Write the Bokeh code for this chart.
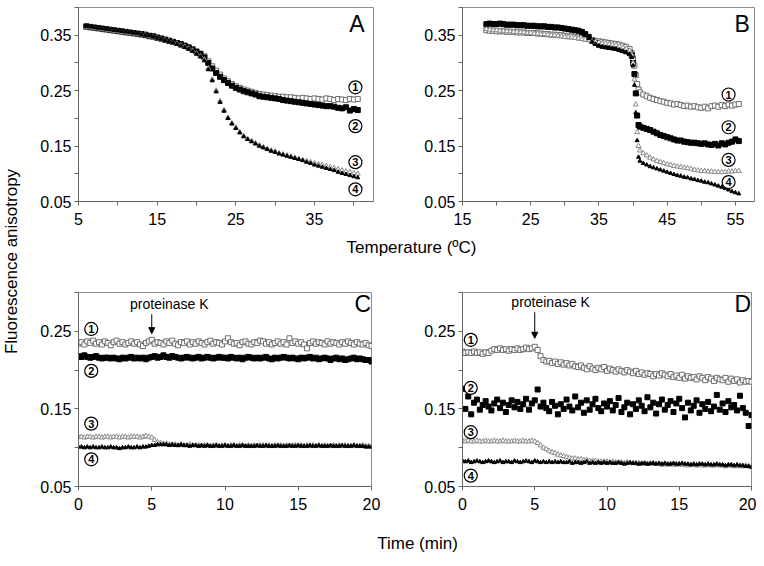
import numpy as np
from bokeh.plotting import figure
from bokeh.layouts import row, column
from bokeh.models import Range1d, FixedTicker, Label, Arrow, NormalHead, PrintfTickFormatter
from bokeh.embed import file_html
from bokeh.resources import INLINE
from bokeh.core.properties import value

FONT = "Liberation Sans"

# ---------------- Panel A: temperature scan ----------------
temp_a = np.arange(6.0, 40.6, 0.5)
a1 = [.365, .364, .363, .362, .361, .360, .359, .358,
      .357, .356, .355, .354, .353, .352, .351, .350, .348, .347,
      .345, .344, .342, .340, .338, .336, .333, .331, .328, .325,
      .321, .317, .312, .303, .294, .286, .279, .272, .267, .262,
      .258, .255, .252, .250, .248, .246, .244, .243, .242, .241,
      .240, .239, .239, .238, .238, .237, .236, .237, .236, .235,
      .236, .235, .234, .236, .235, .233, .235, .234, .233, .235,
      .234, .235]
a2 = [.366, .365, .364, .363, .362, .361, .360, .359,
      .358, .357, .356, .355, .354, .353, .352, .351, .349, .348,
      .346, .344, .342, .340, .338, .336, .334, .331, .328, .324,
      .320, .316, .310, .300, .290, .282, .275, .269, .264, .259,
      .255, .252, .249, .247, .245, .243, .240, .239, .238, .237,
      .236, .235, .233, .232, .231, .230, .229, .228, .227, .226,
      .225, .224, .223, .222, .222, .221, .219, .218, .220, .214,
      .217, .215]
a3 = [.365, .364, .363, .362, .361, .360, .359, .358,
      .357, .356, .355, .354, .353, .352, .351, .350, .348, .347,
      .345, .343, .341, .339, .337, .335, .332, .329, .326, .322,
      .317, .312, .306, .290, .270, .250, .231, .215, .201, .191,
      .183, .175, .168, .163, .159, .155, .151, .148, .145, .142,
      .140, .137, .135, .133, .131, .129, .127, .125, .123, .121,
      .119, .117, .116, .114, .112, .110, .108, .106, .104, .103,
      .101, .100]
a4 = [.366, .365, .364, .363, .362, .361, .360, .359,
      .358, .357, .356, .355, .354, .353, .351, .350, .349, .347,
      .345, .343, .341, .339, .337, .334, .331, .328, .325, .321,
      .316, .311, .304, .288, .268, .248, .229, .213, .200, .190,
      .182, .174, .167, .162, .158, .154, .150, .147, .144, .141,
      .139, .136, .134, .132, .130, .128, .126, .124, .121, .119,
      .116, .114, .112, .110, .108, .106, .103, .101, .099, .097,
      .095, .093]

# ---------------- Panel B: temperature scan ----------------
temp_b = np.concatenate([np.arange(18.5, 39.6, 0.5),
                         [39.8, 40.0, 40.2, 40.4, 40.6, 40.8, 41.0],
                         np.arange(41.5, 55.6, 0.5)])
b1 = [.359, .358, .358, .357, .357, .357, .356, .356, .356,
      .355, .355, .355, .354, .354, .354, .353, .353, .352, .352,
      .351, .351, .350, .350, .349, .348, .348, .347, .346, .345,
      .344, .343, .341, .340, .339, .338, .337, .336, .335, .334,
      .333, .331, .329, .325,
      .318, .308, .295, .278, .262, .252, .247,
      .243, .240, .237, .235, .233, .231, .230, .228,
      .227, .225, .226, .224, .222, .223, .221, .222, .220, .219,
      .221, .218, .222, .223, .221, .224, .222, .225, .223, .225, .226]
b2 = [.370, .371, .370, .370, .371, .370, .369, .369, .369,
      .368, .368, .368, .367, .367, .367, .366, .366, .366, .365,
      .365, .364, .364, .363, .362, .361, .360, .359, .358, .356,
      .352, .347, .340, .336, .333, .331, .330, .329, .328, .327,
      .325, .323, .321, .318,
      .314, .300, .280, .245, .205, .188, .185,
      .183, .181, .179, .176, .173, .170, .168, .166,
      .164, .162, .160, .160, .158, .157, .156, .156, .155, .154,
      .155, .153, .152, .154, .151, .155, .153, .156, .158, .162, .159]
b3 = [.361, .360, .359, .359, .358, .358, .357, .357, .356,
      .356, .355, .355, .354, .354, .353, .353, .352, .352, .351,
      .350, .350, .349, .348, .347, .347, .346, .345, .344, .343,
      .342, .341, .339, .338, .337, .336, .335, .334, .333, .332,
      .330, .328, .326, .322,
      .315, .300, .270, .225, .175, .150, .142,
      .137, .133, .129, .126, .123, .121, .119, .117,
      .116, .114, .113, .112, .111, .110, .109, .107, .106, .105,
      .105, .104, .104, .103, .103, .103, .103, .104, .104, .105, .105]
b4 = [.369, .370, .370, .369, .370, .369, .369, .368, .368,
      .368, .367, .367, .367, .366, .366, .366, .365, .365, .364,
      .364, .363, .363, .362, .361, .360, .359, .358, .357, .355,
      .350, .344, .338, .334, .331, .329, .328, .327, .326, .325,
      .323, .321, .319, .316,
      .310, .295, .260, .210, .160, .130, .123,
      .119, .116, .113, .111, .109, .107, .105, .103,
      .101, .099, .097, .096, .094, .093, .091, .090, .088, .087,
      .085, .084, .082, .080, .078, .076, .074, .071, .068, .066, .064]

# ---------------- Panels C and D: time course ----------------
time_cd = np.linspace(0, 20, 101)
c1 = [.234, .236, .233, .237, .235, .238, .234, .236, .233, .237,
      .235, .232, .236, .238, .234, .236, .233, .235, .237, .234,
      .236, .233, .231, .235, .237, .239, .234, .236, .235, .233,
      .237, .235, .238, .234, .232, .236, .235, .237, .233, .236,
      .234, .237, .235, .233, .236, .238, .234, .236, .235, .233,
      .237, .241, .236, .234, .235, .232, .236, .237, .234, .233,
      .236, .235, .238, .237, .234, .236, .233, .235, .237, .234,
      .236, .233, .241, .235, .237, .234, .236, .233, .228, .235,
      .237, .234, .236, .235, .233, .237, .234, .236, .235, .233,
      .236, .234, .237, .235, .233, .236, .234, .233, .235, .232,
      .231]
c2 = [.218, .217, .219, .217, .216, .217, .218, .216, .215, .216,
      .216, .215, .216, .215, .214, .216, .215, .216, .217, .215,
      .216, .215, .216, .214, .216, .217, .218, .216, .217, .219,
      .217, .216, .218, .217, .216, .215, .216, .217, .216, .215,
      .216, .217, .215, .216, .217, .216, .215, .216, .217, .216,
      .216, .215, .217, .216, .215, .216, .214, .216, .217, .216,
      .215, .216, .215, .216, .217, .215, .214, .216, .215, .216,
      .217, .216, .215, .216, .215, .214, .216, .215, .216, .217,
      .215, .216, .214, .215, .216, .215, .213, .215, .216, .214,
      .215, .213, .214, .215, .216, .214, .215, .214, .213, .213,
      .211]
c3 = [.114, .114, .113, .114, .114, .113, .114, .114, .113, .114,
      .114, .113, .114, .114, .113, .114, .114, .113, .114, .114,
      .114, .113, .114, .115, .114, .113, .110, .107, .106, .105,
      .105, .104, .104, .104, .103, .104, .103, .103, .104, .103,
      .103, .103, .102, .103, .103, .102, .103, .103, .102, .103,
      .103, .102, .103, .103, .102, .103, .103, .102, .103, .102,
      .103, .102, .103, .103, .102, .103, .102, .103, .102, .103,
      .102, .103, .102, .103, .103, .102, .103, .102, .103, .102,
      .103, .102, .103, .102, .103, .102, .102, .103, .102, .103,
      .102, .103, .102, .102, .103, .102, .102, .103, .102, .102,
      .102]
c4 = [.101, .101, .100, .101, .100, .101, .100, .100, .101, .100,
      .100, .101, .100, .100, .099, .100, .100, .101, .100, .100,
      .101, .100, .101, .101, .102, .103, .103, .104, .104, .104,
      .104, .103, .104, .103, .103, .104, .103, .103, .102, .103,
      .103, .102, .103, .102, .103, .102, .102, .103, .102, .102,
      .103, .102, .102, .103, .102, .102, .103, .102, .102, .102,
      .102, .103, .102, .102, .103, .102, .102, .102, .103, .102,
      .102, .102, .103, .102, .102, .103, .102, .102, .102, .103,
      .102, .102, .103, .102, .102, .102, .103, .102, .102, .102,
      .103, .102, .102, .102, .103, .102, .102, .102, .101, .101,
      .101]
d1 = [.224, .222, .223, .222, .224, .222, .223, .221, .223, .222,
      .225, .227, .226, .228, .226, .227, .225, .227, .226, .228,
      .226, .227, .229, .227, .228, .230, .226, .218, .213, .211,
      .212, .209, .211, .208, .210, .207, .209, .206, .208, .205,
      .204, .206, .203, .201, .205, .202, .200, .203, .201, .204,
      .199, .202, .200, .198, .201, .199, .197, .200, .198, .196,
      .199, .195, .197, .194, .196, .195, .192, .195, .193, .196,
      .194, .192, .195, .191, .193, .190, .194, .189, .192, .190,
      .191, .188, .192, .190, .187, .191, .189, .186, .190, .188,
      .187, .190, .185, .189, .186, .188, .184, .187, .185, .186,
      .185]
d2 = [.176, .150, .166, .143, .158, .162, .149, .155, .160, .153,
      .148, .157, .162, .151, .158, .146, .155, .161, .152, .159,
      .150, .156, .163, .149, .157, .161, .175, .153, .158, .151,
      .147, .159, .154, .143, .156, .150, .162, .153, .148, .166,
      .152, .158, .145, .161, .149, .156, .163, .151, .147, .157,
      .153, .160, .148, .155, .164, .146, .152, .158, .143, .156,
      .150, .161, .154, .147, .165, .152, .158, .144, .156, .162,
      .149, .155, .160, .146, .157, .163, .151, .139, .158, .148,
      .154, .161, .145, .156, .150, .159, .147, .153, .168, .149,
      .157, .146, .160, .152, .155, .148, .167, .151, .145, .128,
      .142]
d3 = [.109, .108, .109, .108, .108, .109, .108, .108, .109, .108,
      .108, .109, .108, .108, .109, .108, .108, .108, .109, .108,
      .108, .109, .108, .108, .109, .108, .106, .103, .100, .098,
      .096, .094, .093, .091, .090, .089, .088, .087, .086, .086,
      .085, .085, .084, .084, .083, .083, .083, .082, .082, .082,
      .082, .081, .082, .081, .081, .081, .080, .081, .080, .080,
      .080, .080, .079, .080, .079, .079, .080, .079, .079, .078,
      .079, .078, .079, .078, .078, .079, .078, .078, .077, .078,
      .078, .077, .078, .077, .077, .078, .077, .077, .078, .077,
      .077, .076, .077, .077, .076, .077, .076, .076, .077, .076,
      .075]
d4 = [.083, .082, .083, .081, .082, .083, .082, .081, .082, .083,
      .082, .081, .082, .083, .081, .082, .082, .081, .083, .082,
      .081, .082, .083, .082, .081, .083, .082, .081, .082, .081,
      .082, .081, .082, .081, .082, .081, .081, .082, .080, .081,
      .081, .080, .081, .082, .080, .081, .080, .081, .080, .081,
      .080, .081, .080, .080, .081, .080, .079, .080, .081, .080,
      .080, .079, .080, .080, .079, .080, .080, .079, .080, .079,
      .080, .079, .079, .080, .079, .079, .080, .079, .079, .078,
      .079, .078, .079, .079, .078, .079, .078, .078, .079, .078,
      .078, .077, .078, .078, .077, .078, .077, .077, .076, .076,
      .075]

curve_names = ["1", "2", "3", "4"]

# label anchors (data coordinates) for the circled curve numbers
tags_a = ([40.2, 40.2, 40.2, 40.2], [0.256, 0.186, 0.121, 0.072])
tags_b = ([54.0, 54.0, 54.0, 54.0], [0.243, 0.184, 0.125, 0.085])
tags_c = ([0.87, 0.87, 0.87, 0.87], [0.253, 0.199, 0.131, 0.085])
tags_d = ([0.57, 0.57, 0.57, 0.57], [0.239, 0.177, 0.120, 0.064])

OPEN1 = "#6e6e6e"
OPEN3 = "#8a8a8a"


def make_panel(width, height, mbl, mbr, mbt, mbb, xr, yr, xt, xm, yt, ym):
    p = figure(width=width, height=height, x_range=Range1d(*xr), y_range=Range1d(*yr),
               toolbar_location=None, output_backend="svg",
               min_border_left=mbl, min_border_right=mbr,
               min_border_top=mbt, min_border_bottom=mbb)
    p.title.visible = False
    p.xgrid.visible = False
    p.ygrid.visible = False
    p.outline_line_color = "#8c8c8c"
    p.outline_line_width = 1
    p.xaxis.ticker = FixedTicker(ticks=xt, minor_ticks=xm)
    p.yaxis.ticker = FixedTicker(ticks=yt, minor_ticks=ym)
    p.yaxis.formatter = PrintfTickFormatter(format="%.2f")
    p.xaxis.formatter = PrintfTickFormatter(format="%d")
    for ax in (p.xaxis[0], p.yaxis[0]):
        ax.axis_line_color = "#666666"
        ax.major_tick_line_color = "#666666"
        ax.minor_tick_line_color = "#666666"
        ax.major_tick_out = 4
        ax.major_tick_in = 0
        ax.minor_tick_out = 4
        ax.minor_tick_in = 0
        ax.major_label_text_font = FONT
        ax.major_label_text_font_size = "16px"
        ax.major_label_text_color = "black"
    p.xaxis.major_label_standoff = 7
    p.yaxis.major_label_standoff = 3
    return p


def draw_series(p, x, s1, s2, s3, s4):
    p.scatter(x, s1, marker="square", size=5, fill_color="white", line_color=OPEN1, line_width=1)
    p.scatter(x, s2, marker="square", size=5, fill_color="black", line_color="black")
    p.scatter(x, s3, marker="triangle", size=5, fill_color="white", line_color=OPEN3, line_width=1)
    p.scatter(x, s4, marker="triangle", size=4, fill_color="black", line_color="black")


def draw_tags(p, tags):
    p.scatter(tags[0], tags[1], marker="circle", size=13, fill_color="white",
              line_color="black", line_width=1.2)
    p.text(tags[0], tags[1], text=curve_names, text_font=value(FONT), text_font_size="11px",
           text_font_style="bold", text_align="center", text_baseline="middle",
           text_color="black")


def panel_letter(p, x, y, letter):
    p.add_layout(Label(x=x, y=y, text=letter, text_font=FONT, text_font_size="23px",
                       text_align="center", text_baseline="middle", text_color="black"))


def protease_mark(p, tx, ty, y0, y1):
    p.add_layout(Label(x=tx, y=ty, text="proteinase K", text_font=FONT, text_font_size="14px",
                       text_align="center", text_baseline="middle", text_color="black"))
    p.add_layout(Arrow(end=NormalHead(size=6, fill_color="black", line_color="black"),
                       x_start=5, y_start=y0, x_end=5, y_end=y1, line_color="black", line_width=1))


# Panel A
pa = make_panel(368, 232, 46, 27, 7, 31, (5, 42.5), (0.05, 0.40),
                [5, 15, 25, 35], [10, 20, 30, 40], [0.05, 0.15, 0.25, 0.35], [0.10, 0.20, 0.30, 0.40])
draw_series(pa, temp_a, a1, a2, a3, a4)
draw_tags(pa, tags_a)
panel_letter(pa, 40.4, 0.370, "A")

# Panel B
pb = make_panel(356, 232, 62, 2, 7, 31, (15, 57.8), (0.05, 0.40),
                [15, 25, 35, 45, 55], [20, 30, 40, 50], [0.05, 0.15, 0.25, 0.35], [0.10, 0.20, 0.30, 0.40])
draw_series(pb, temp_b, b1, b2, b3, b4)
draw_tags(pb, tags_b)
panel_letter(pb, 56.0, 0.370, "B")

# Panel C
pc = make_panel(368, 248, 46, 29, 22, 32, (0, 20), (0.05, 0.30),
                [0, 5, 10, 15, 20], [], [0.05, 0.15, 0.25], [0.10, 0.20, 0.30])
draw_series(pc, time_cd, c1, c2, c3, c4)
draw_tags(pc, tags_c)
panel_letter(pc, 19.4, 0.285, "C")
protease_mark(pc, 6.2, 0.2856, 0.272, 0.247)

# Panel D
pd_ = make_panel(356, 248, 62, 5, 22, 32, (0, 20), (0.05, 0.30),
                 [0, 5, 10, 15, 20], [], [0.05, 0.15, 0.25], [0.10, 0.20, 0.30])
draw_series(pd_, time_cd, d1, d2, d3, d4)
draw_tags(pd_, tags_d)
panel_letter(pd_, 19.4, 0.285, "D")
protease_mark(pd_, 6.1, 0.2876, 0.2746, 0.241)


def strip(width, height, text, x, y, angle=0.0):
    s = figure(width=width, height=height, x_range=Range1d(0, 1), y_range=Range1d(0, 1),
               x_axis_type=None, y_axis_type=None, toolbar_location=None, output_backend="svg",
               min_border=0, min_border_left=0, min_border_right=0, min_border_top=0,
               min_border_bottom=0)
    s.title.visible = False
    s.outline_line_color = None
    s.xgrid.visible = False
    s.ygrid.visible = False
    s.add_layout(Label(x=x, y=y, x_units="screen", y_units="screen", text=text, angle=angle,
                       text_font=FONT, text_font_size="17px", text_align="center",
                       text_baseline="middle", text_color="black"))
    return s


ylab = strip(32, 558, "Fluorescence anisotropy", 11, 297, angle=np.pi / 2)
tlab = strip(724, 38, "Temperature (ºC)", 379, 23)
mlab = strip(724, 40, "Time (min)", 385, 15)

layout = row(ylab, column(row(pa, pb), tlab, row(pc, pd_), mlab))

open("out.html", "w").write(file_html(layout, INLINE))
